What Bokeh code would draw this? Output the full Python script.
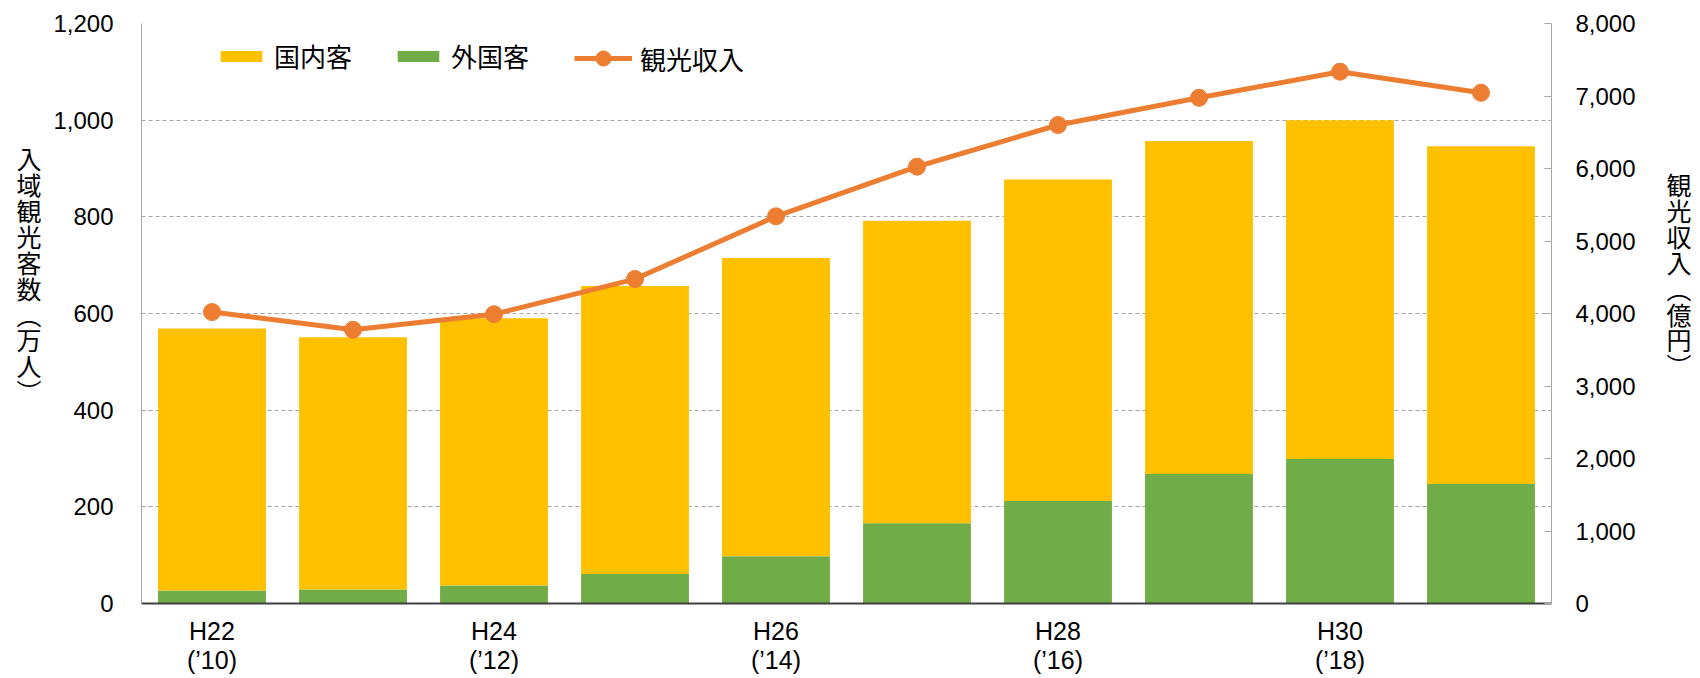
from bokeh.plotting import figure
from bokeh.models import (ColumnDataSource, Range1d, LinearAxis, FixedTicker,
                          NumeralTickFormatter, Legend, LegendItem)
from bokeh.embed import file_html
from bokeh.resources import INLINE

# ---- data ----
categories = ["H22", "H23", "H24", "H25", "H26", "H27", "H28", "H29", "H30", "R1"]
tick_labels = ["H22\n(’10)", "", "H24\n(’12)", "", "H26\n(’14)", "", "H28\n(’16)", "", "H30\n(’18)", ""]
domestic = [542, 522, 553, 596, 617, 626, 665, 689, 701, 699]   # 国内客 (万人)
foreign = [27, 29, 37, 61, 98, 166, 212, 268, 299, 247]          # 外国客 (万人)
revenue = [4020, 3775, 3990, 4475, 5340, 6025, 6600, 6975, 7335, 7045]  # 観光収入 (億円)
left_ticks = [0, 200, 400, 600, 800, 1000, 1200]
right_ticks = [0, 1000, 2000, 3000, 4000, 5000, 6000, 7000, 8000]

YELLOW = "#FFC000"
GREEN = "#70AD47"
ORANGE = "#ED7D31"
GRID = "#A6A6A6"
NARROW = "'Liberation Sans Narrow', 'Liberation Sans', sans-serif"
ARIAL = "'Liberation Sans', sans-serif"
CJK = "'Noto Sans CJK JP'"

xpos = list(range(len(categories)))
src = ColumnDataSource(dict(x=xpos, cat=categories, domestic=domestic, foreign=foreign, revenue=revenue))

p = figure(width=1694, height=677, x_range=Range1d(-0.5, len(categories) - 0.5),
           y_range=Range1d(0, 1200), output_backend="svg", toolbar_location=None,
           min_border_left=141, min_border_right=140, min_border_top=23, min_border_bottom=74)
p.extra_y_ranges = {"rev": Range1d(0, 8000)}
p.outline_line_color = None
p.background_fill_color = "white"

bars = p.vbar_stack(["foreign", "domestic"], x="x", width=0.765, color=[GREEN, YELLOW],
                    line_color=None, source=src)
r_line = p.line("x", "revenue", source=src, y_range_name="rev", line_color=ORANGE, line_width=5)
r_pts = p.scatter("x", "revenue", source=src, y_range_name="rev", size=17,
                  fill_color=ORANGE, line_color=ORANGE)

# grid
p.xgrid.visible = False
p.ygrid.ticker = FixedTicker(ticks=left_ticks)
p.ygrid.grid_line_color = GRID
p.ygrid.grid_line_dash = "4 3"
p.ygrid.grid_line_width = 1

# left axis
ya = p.yaxis[0]
ya.ticker = FixedTicker(ticks=left_ticks)
ya.formatter = NumeralTickFormatter(format="0,0")
ya.axis_line_color = GRID
ya.major_tick_line_color = None
ya.minor_tick_line_color = None
ya.major_label_text_font = NARROW
ya.major_label_text_font_size = "24px"
ya.major_label_text_color = "black"
ya.major_label_standoff = 22
ya.axis_label = "\n".join("入域観光客数︵万人︶") + "\n\n\n"
ya.axis_label_orientation = "horizontal"
ya.axis_label_text_font = CJK
ya.axis_label_text_font_size = "25px"
ya.axis_label_text_font_style = "normal"
ya.axis_label_text_color = "black"
ya.axis_label_text_line_height = 0.72
ya.axis_label_standoff = 9

# right axis
ra = LinearAxis(y_range_name="rev", ticker=FixedTicker(ticks=right_ticks),
                formatter=NumeralTickFormatter(format="0,0"))
ra.axis_line_color = GRID
ra.major_tick_line_color = GRID
ra.major_tick_in = 7
ra.major_tick_out = 0
ra.minor_tick_line_color = None
ra.major_label_text_font = ARIAL
ra.major_label_text_font_size = "24px"
ra.major_label_text_color = "black"
ra.major_label_standoff = 24
ra.axis_label = "\n".join("観光収入︵億円︶") + "\n\n\n"
ra.axis_label_orientation = "horizontal"
ra.axis_label_text_font = CJK
ra.axis_label_text_font_size = "25px"
ra.axis_label_text_font_style = "normal"
ra.axis_label_text_color = "black"
ra.axis_label_text_line_height = 0.72
ra.axis_label_standoff = 28
p.add_layout(ra, "right")

# bottom axis
xa = p.xaxis[0]
xa.ticker = FixedTicker(ticks=[i for i, t in zip(xpos, tick_labels) if t])
xa.major_label_overrides = {i: t for i, t in zip(xpos, tick_labels) if t}
xa.axis_line_color = "#404040"
xa.axis_line_width = 2
xa.major_tick_line_color = None
xa.minor_tick_line_color = None
xa.major_label_text_font = NARROW
xa.major_label_text_font_size = "25px"
xa.major_label_text_color = "black"
xa.major_label_text_line_height = 1.05
xa.major_label_standoff = 7

# legends
leg1 = Legend(items=[LegendItem(label="国内客", renderers=[bars[1]]),
                     LegendItem(label="外国客", renderers=[bars[0]])],
              orientation="horizontal", location=(74, 529), glyph_width=52, glyph_height=14,
              label_standoff=7, spacing=40, padding=0, margin=0,
              border_line_color=None, background_fill_alpha=0,
              label_text_font=CJK, label_text_font_size="26px", label_text_color="black")
leg2 = Legend(items=[LegendItem(label="観光収入", renderers=[r_line, r_pts])],
              orientation="horizontal", location=(433, 526), glyph_width=58, glyph_height=38,
              label_standoff=8, padding=0, margin=0,
              border_line_color=None, background_fill_alpha=0,
              label_text_font=CJK, label_text_font_size="26px", label_text_color="black")
p.add_layout(leg1, "center")
p.add_layout(leg2, "center")

open("out.html", "w").write(file_html(p, INLINE))
